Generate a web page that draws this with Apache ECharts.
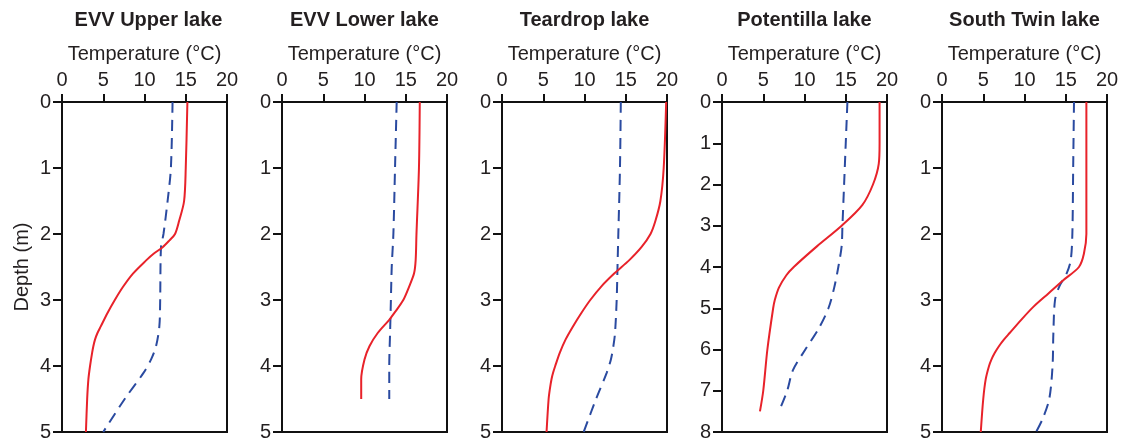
<!DOCTYPE html>
<html>
<head>
<meta charset="utf-8">
<script src="https://cdn.jsdelivr.net/npm/echarts@6/dist/echarts.min.js"></script>
<style>
  html, body { margin: 0; padding: 0; background: #fff; }
  #chart { width: 1124px; height: 444px; }
</style>
</head>
<body>
<div id="chart"></div>
<script>
// ---- Data ----
const lakeNames = ['EVV Upper lake', 'EVV Lower lake', 'Teardrop lake', 'Potentilla lake', 'South Twin lake'];
const depthMax = [5, 5, 5, 8, 5];
const tempTicks = [0, 5, 10, 15, 20];

// EVV Upper lake
const upperRedDepth = [0, 1, 1.5, 1.8, 2.0, 2.1, 2.2, 2.3, 2.4, 2.6, 2.8, 3.0, 3.2, 3.4, 3.5, 3.6, 3.7, 3.8, 4.0, 4.2, 4.5, 5.0];
const upperRedTemp  = [15.2, 15.0, 14.8, 14.2, 13.7, 13.0, 12.2, 11.1, 10.2, 8.6, 7.4, 6.4, 5.5, 4.7, 4.3, 4.0, 3.8, 3.65, 3.4, 3.2, 3.05, 2.9];
const upperBlueDepth = [0, 1, 1.5, 2, 2.2, 3, 3.4, 3.7, 3.9, 4.1, 4.5, 5];
const upperBlueTemp  = [13.4, 13.2, 12.8, 12.3, 12.0, 11.9, 11.8, 11.4, 10.8, 9.9, 7.6, 5.0];

// EVV Lower lake
const lowerRedDepth = [0, 1, 2, 2.4, 2.6, 2.8, 3.0, 3.2, 3.3, 3.5, 3.7, 3.9, 4.2, 4.5];
const lowerRedTemp  = [16.7, 16.6, 16.3, 16.2, 16.0, 15.4, 14.7, 13.6, 13.0, 11.6, 10.6, 10.0, 9.6, 9.6];
const lowerBlueDepth = [0, 1, 2, 2.5, 3, 3.5, 4, 4.5];
const lowerBlueTemp  = [13.9, 13.7, 13.5, 13.3, 13.2, 13.1, 13.0, 13.0];

// Teardrop lake
const tearRedDepth = [0, 1, 1.5, 1.8, 2.0, 2.2, 2.4, 2.6, 2.8, 3.0, 3.2, 3.4, 3.6, 3.8, 4.0, 4.1, 4.2, 4.35, 4.5, 5];
const tearRedTemp  = [19.9, 19.6, 19.2, 18.6, 18.0, 16.9, 15.4, 13.6, 12.0, 10.7, 9.6, 8.6, 7.7, 7.0, 6.45, 6.2, 6.0, 5.8, 5.65, 5.4];
const tearBlueDepth = [0, 1, 2, 2.5, 3, 3.5, 3.7, 3.9, 4.1, 4.5, 5];
const tearBlueTemp  = [14.4, 14.3, 14.1, 14.0, 13.9, 13.7, 13.5, 13.2, 12.7, 11.4, 9.9];

// Potentilla lake
const potRedDepth = [0, 1, 1.5, 2, 2.5, 3, 3.5, 4, 4.2, 4.5, 4.8, 5, 6, 7, 7.5];
const potRedTemp  = [19.1, 19.1, 19.0, 18.3, 17.0, 14.5, 11.5, 8.7, 7.8, 6.9, 6.4, 6.2, 5.5, 5.0, 4.6];
const potBlueDepth = [0, 1, 2, 3, 3.5, 4, 4.5, 5, 5.5, 6, 6.5, 7, 7.5];
const potBlueTemp  = [15.2, 15.0, 14.8, 14.6, 14.5, 14.1, 13.6, 12.9, 11.7, 10.1, 8.6, 7.9, 6.9];

// South Twin lake
const twinRedDepth = [0, 1, 2, 2.3, 2.5, 2.7, 2.9, 3.1, 3.3, 3.5, 3.6, 3.7, 3.8, 3.9, 4.0, 4.2, 4.5, 5];
const twinRedTemp  = [17.5, 17.5, 17.5, 17.2, 16.6, 14.7, 12.9, 11.1, 9.6, 8.2, 7.5, 6.9, 6.4, 6.0, 5.7, 5.3, 5.0, 4.7];
const twinBlueDepth = [0, 1, 2, 2.4, 2.6, 2.8, 3.0, 3.5, 4.0, 4.5, 4.8, 5];
const twinBlueTemp  = [16.0, 15.9, 15.8, 15.6, 15.1, 14.2, 13.7, 13.5, 13.4, 13.0, 12.2, 11.4];

const redProfiles = [
  [upperRedTemp, upperRedDepth], [lowerRedTemp, lowerRedDepth], [tearRedTemp, tearRedDepth],
  [potRedTemp, potRedDepth], [twinRedTemp, twinRedDepth]
];
const blueProfiles = [
  [upperBlueTemp, upperBlueDepth], [lowerBlueTemp, lowerBlueDepth], [tearBlueTemp, tearBlueDepth],
  [potBlueTemp, potBlueDepth], [twinBlueTemp, twinBlueDepth]
];

// ---- Layout / style ----
const FONT = "'Liberation Sans', Arial, Helvetica, sans-serif";
const TEXT = '#231f20';
const panelLeft = [62, 282, 502, 722, 942];
const panelWidth = 165;
const panelTop = 102;
const panelHeight = 330;

const zip = (t, d) => t.map((v, i) => [v, d[i]]);

const grids = [], xAxes = [], yAxes = [], series = [], graphics = [];
lakeNames.forEach((name, i) => {
  grids.push({
    left: panelLeft[i], top: panelTop, width: panelWidth, height: panelHeight,
    show: true, borderColor: '#111', borderWidth: 2, backgroundColor: 'transparent'
  });
  xAxes.push({
    gridIndex: i, type: 'value', position: 'top',
    min: tempTicks[0], max: tempTicks[tempTicks.length - 1], interval: tempTicks[1] - tempTicks[0],
    name: 'Temperature (°C)', nameLocation: 'middle', nameGap: 38,
    nameTextStyle: { fontFamily: FONT, fontSize: 20, color: TEXT },
    axisLine: { show: true, lineStyle: { color: '#111', width: 2 } },
    axisTick: { show: true, length: 8, lineStyle: { color: '#111', width: 2 } },
    axisLabel: { fontFamily: FONT, fontSize: 20, color: TEXT, margin: 12, showMinLabel: true, showMaxLabel: true },
    splitLine: { show: false }
  });
  yAxes.push({
    gridIndex: i, type: 'value', inverse: true,
    min: 0, max: depthMax[i], interval: 1,
    name: i === 0 ? 'Depth (m)' : '', nameLocation: 'middle', nameGap: 30,
    nameTextStyle: { fontFamily: FONT, fontSize: 20, color: TEXT },
    axisLine: { show: true, lineStyle: { color: '#111', width: 2 } },
    axisTick: { show: true, length: 9, lineStyle: { color: '#111', width: 2 } },
    axisLabel: { fontFamily: FONT, fontSize: 20, color: TEXT, margin: 11, showMinLabel: true, showMaxLabel: true },
    splitLine: { show: false }
  });
  series.push({
    name: name + ' (solid)', type: 'line', xAxisIndex: i, yAxisIndex: i,
    data: zip(redProfiles[i][0], redProfiles[i][1]),
    smooth: 0.3, showSymbol: false, symbol: 'none',
    lineStyle: { color: '#e8222a', width: 2 }, z: 3
  });
  series.push({
    name: name + ' (dashed)', type: 'line', xAxisIndex: i, yAxisIndex: i,
    data: zip(blueProfiles[i][0], blueProfiles[i][1]),
    smooth: 0.3, showSymbol: false, symbol: 'none',
    lineStyle: { color: '#2a4aa0', width: 2, type: [11, 7] }, z: 2
  });
  graphics.push({
    type: 'text', x: panelLeft[i] + panelWidth / 2 + (i === 0 ? 4 : 0), y: 20,
    style: { text: name, fill: TEXT, font: 'bold 20px ' + FONT, textAlign: 'center', textVerticalAlign: 'middle' }
  });
});

const chart = echarts.init(document.getElementById('chart'), null, { renderer: 'canvas' });
chart.setOption({
  animation: false,
  backgroundColor: '#fff',
  grid: grids, xAxis: xAxes, yAxis: yAxes, series: series,
  graphic: graphics
});
</script>
</body>
</html>
